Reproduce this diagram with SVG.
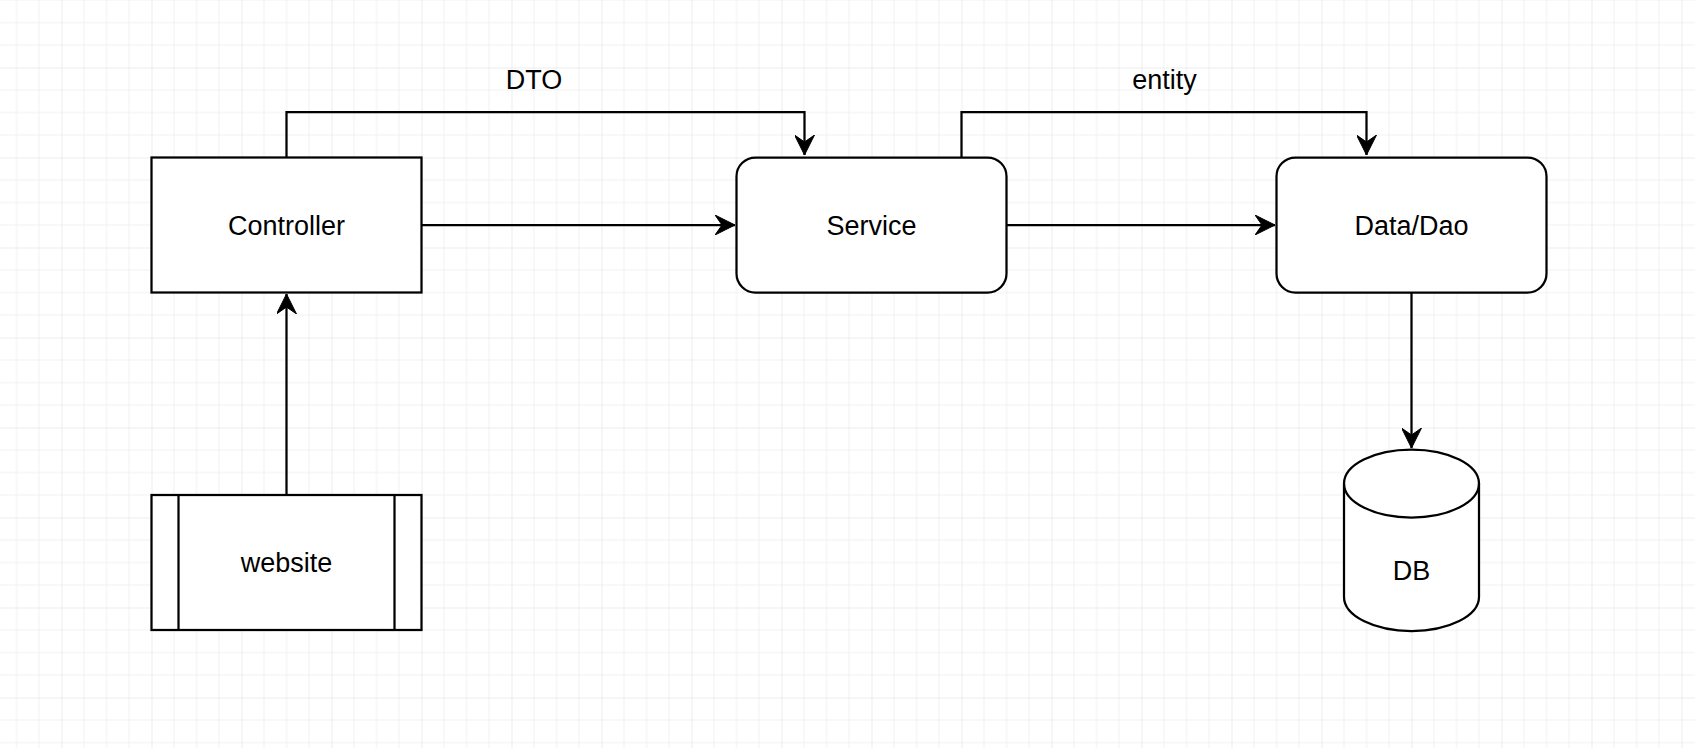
<svg xmlns="http://www.w3.org/2000/svg" width="1695" height="748" viewBox="0 0 1695 748">
  <style>
    .node { fill: #ffffff; stroke: #000000; stroke-width: 2.25; }
    .edge { fill: none; stroke: #000000; stroke-width: 2.25; }
    .label { font-family: "Liberation Sans", Arial, sans-serif; font-size: 27px; fill: #000000; text-anchor: middle; }
  </style>
  <defs>
    <pattern id="grid" patternUnits="userSpaceOnUse" x="61.5" y="67.5" width="90" height="90">
      <path d="M22.5 0V90M45 0V90M67.5 0V90M0 22.5H90M0 45H90M0 67.5H90" stroke="#f0f0f0" stroke-width="1" fill="none"/>
      <path d="M0 0V90M0 0H90" stroke="#dcdcdc" stroke-width="1" fill="none"/>
    </pattern>
    <marker id="arrow" markerUnits="userSpaceOnUse" viewBox="0 0 20 20" refX="20" refY="10" markerWidth="20" markerHeight="20" orient="auto">
      <path d="M0 0L20 10L0 20L7 10Z" fill="#000000" stroke="#000000" stroke-width="1"/>
    </marker>
  </defs>
  <rect x="0" y="0" width="1695" height="748" fill="#ffffff"/>
  <rect x="0" y="0" width="1695" height="748" fill="url(#grid)"/>

  <g id="connectors">
    <path class="edge" d="M286.5 157.5V112H804.5V155" marker-end="url(#arrow)"/>
    <path class="edge" d="M421.5 225H735" marker-end="url(#arrow)"/>
    <path class="edge" d="M961.5 157.5V112H1366.5V155" marker-end="url(#arrow)"/>
    <path class="edge" d="M1006.5 225H1275" marker-end="url(#arrow)"/>
    <path class="edge" d="M1411.5 292.5V448" marker-end="url(#arrow)"/>
    <path class="edge" d="M286.5 495V294" marker-end="url(#arrow)"/>
    <text class="label" x="534" y="89">DTO</text>
    <text class="label" x="1164.5" y="89">entity</text>
  </g>

  <g id="controller">
    <rect class="node" x="151.5" y="157.5" width="270" height="135"/>
    <text class="label" x="286.5" y="234.5">Controller</text>
  </g>

  <g id="service">
    <rect class="node" x="736.5" y="157.5" width="270" height="135" rx="19" ry="19"/>
    <text class="label" x="871.5" y="234.5">Service</text>
  </g>

  <g id="datadao">
    <rect class="node" x="1276.5" y="157.5" width="270" height="135" rx="19" ry="19"/>
    <text class="label" x="1411.5" y="234.5">Data/Dao</text>
  </g>

  <g id="db">
    <path class="node" d="M1344 483.5A67.5 34 0 0 1 1479 483.5V597A67.5 34 0 0 1 1344 597Z"/>
    <path class="edge" d="M1344 483.5A67.5 34 0 0 0 1479 483.5"/>
    <text class="label" x="1411.5" y="580">DB</text>
  </g>

  <g id="website">
    <rect class="node" x="151.5" y="495" width="270" height="135"/>
    <path class="edge" d="M178.5 495V630M394.5 495V630"/>
    <text class="label" x="286.5" y="572">website</text>
  </g>
</svg>
